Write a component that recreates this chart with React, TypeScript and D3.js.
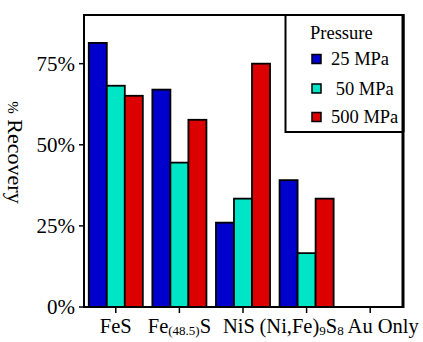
import React from "react";
import * as d3 from "d3";

const categories = ["FeS", "Fe(48.5)S", "NiS", "(Ni,Fe)9S8", "Au Only"];
const categoryLabelParts: [string, boolean][][] = [
  [["FeS", false]],
  [["Fe", false], ["(48.5)", true], ["S", false]],
  [["NiS", false]],
  [["(Ni,Fe)", false], ["9", true], ["S", false], ["8", true]],
  [["Au Only", false]],
];
const series = ["25 MPa", "50 MPa", "500 MPa"];
const seriesLabels = ["25 MPa", "\u00a050 MPa", "500 MPa"];
const values25 = [0.814, 0.67, 0.26, 0.391, 0];
const values50 = [0.682, 0.445, 0.334, 0.166, 0];
const values500 = [0.651, 0.577, 0.75, 0.334, 0];
const seriesValues = [values25, values50, values500];
const colors = ["#0000CC", "#00E5C6", "#DD0000"];
const yTicks = [0, 0.25, 0.5, 0.75];
const labelShift = [0, 0, -4, -5, 13];

const W = 423;
const H = 342;
const panel = { left: 84, right: 403, top: 15, bottom: 307 };
const FONT = "'Liberation Serif', 'DejaVu Serif', serif";

function T(props: { x?: number; y?: number; size: number; anchor?: string; children: React.ReactNode; transform?: string }) {
  return (
    <text
      x={props.x}
      y={props.y}
      transform={props.transform}
      textAnchor={props.anchor || "start"}
      fontFamily={FONT}
      fontSize={props.size}
      fill="#000"
      style={{ fontFamily: FONT }}
    >
      {props.children}
    </text>
  );
}

export default function App() {
  const x = d3
    .scaleBand<string>()
    .domain(categories)
    .range([panel.left, panel.right - 1])
    .paddingInner(0.15)
    .paddingOuter(0.075);
  const xi = d3.scaleBand<string>().domain(series).range([0, x.bandwidth()]);
  const y = d3.scaleLinear().domain([0, 0.9]).range([panel.bottom, panel.top]);
  const pct = d3.format(".0%");

  const legX = 285.5;
  const legY = panel.top;
  const legW = panel.right - legX;
  const legH = 117;
  const keyYs = [59, 88.5, 117];

  return (
    <svg
      width={W}
      height={H}
      style={{ position: "absolute", left: 0, top: 0, background: "#fff", fontFamily: FONT }}
    >
      <rect x={0} y={0} width={W} height={H} fill="#fff" />
      {categories.map((c, ci) =>
        series.map((s, si) => {
          const v = seriesValues[si][ci];
          if (v <= 0) return null;
          const x0 = (x(c) as number) + (xi(s) as number);
          return (
            <rect
              key={c + s}
              x={x0}
              y={y(v)}
              width={xi.bandwidth()}
              height={y(0) - y(v)}
              fill={colors[si]}
              stroke="#000"
              strokeWidth={1.8}
            />
          );
        })
      )}
      <rect
        x={panel.left}
        y={panel.top}
        width={panel.right - panel.left}
        height={panel.bottom - panel.top}
        fill="none"
        stroke="#000"
        strokeWidth={2}
      />
      <line x1={panel.right} x2={panel.right} y1={panel.top - 1} y2={panel.bottom + 1} stroke="#000" strokeWidth={3} />
      {yTicks.map((t) => (
        <g key={t}>
          <line x1={79} x2={83} y1={y(t)} y2={y(t)} stroke="#000" strokeWidth={1.5} />
          <T x={75} y={y(t) + 7} size={21} anchor="end">
            <tspan>{pct(t)}</tspan>
          </T>
        </g>
      ))}
      {categories.map((c, ci) => {
        const cx = (x(c) as number) + x.bandwidth() / 2;
        return (
          <g key={c}>
            <line x1={cx} x2={cx} y1={panel.bottom + 1} y2={panel.bottom + 6} stroke="#000" strokeWidth={1.5} />
            <T x={cx + labelShift[ci]} y={333} size={20.5} anchor="middle">
              {categoryLabelParts[ci].map(([t, sub], k) => (
                <tspan key={k} fontSize={sub ? 13 : 20.5} dy={sub ? 2 : k > 0 && categoryLabelParts[ci][k - 1][1] ? -2 : 0}>
                  {t}
                </tspan>
              ))}
            </T>
          </g>
        );
      })}
      <T transform="translate(8,152.5) rotate(90)" size={22} anchor="middle">
        <tspan fontSize={15}>%</tspan>
        <tspan fontSize={22}>{"\u00a0Recovery"}</tspan>
      </T>
      <rect x={legX} y={legY} width={legW} height={legH} fill="#fff" stroke="#000" strokeWidth={2} />
      <line x1={panel.right} x2={panel.right} y1={panel.top - 1} y2={legY + legH} stroke="#000" strokeWidth={3} />
      <T x={310} y={38.5} size={18.5}>
        <tspan>Pressure</tspan>
      </T>
      {series.map((s, si) => (
        <g key={s}>
          <rect
            x={312}
            y={keyYs[si] - 4.5}
            width={9}
            height={9}
            fill={colors[si]}
            stroke="#000"
            strokeWidth={1.5}
          />
          <T x={331} y={keyYs[si] + 6} size={18.5}>
            <tspan>{seriesLabels[si]}</tspan>
          </T>
        </g>
      ))}
    </svg>
  );
}
